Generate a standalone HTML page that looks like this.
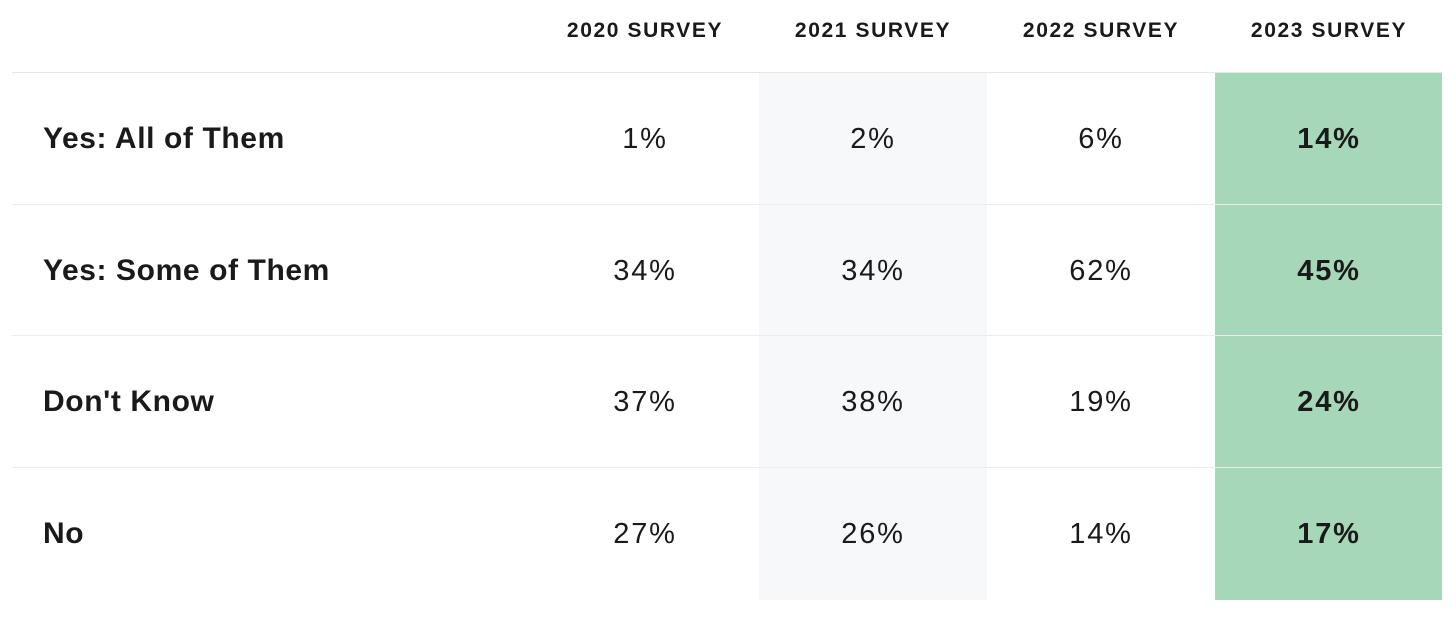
<!DOCTYPE html>
<html><head><meta charset="utf-8"><style>
body{margin:0;width:1456px;height:618px;background:#fff;font-family:"Liberation Sans",sans-serif;color:#1a1a1a;position:relative;overflow:hidden}
.abs{position:absolute}
.hdr{top:18px;width:228px;text-align:center;font-weight:bold;font-size:21px;letter-spacing:1.6px;line-height:26px}
.line{left:12px;width:1430px;height:1px;background:#e6e6e6}
.lab{left:43px;font-weight:bold;font-size:30px;letter-spacing:0.6px;line-height:34px}
.val{width:228px;text-align:center;font-size:29px;letter-spacing:1.8px;line-height:34px}
</style></head><body>
<div class="abs" style="left:759px;top:73px;width:228px;height:527px;background:#f7f8fa"></div>
<div class="abs" style="left:1215px;top:73px;width:227px;height:527px;background:#a6d7b8"></div>
<div id="t"></div>
<script>
const surveys=["2020 SURVEY","2021 SURVEY","2022 SURVEY","2023 SURVEY"];
const answers=["Yes: All of Them","Yes: Some of Them","Don't Know","No"];
const v2020=[1,34,37,27];
const v2021=[2,34,38,26];
const v2022=[6,62,19,14];
const v2023=[14,45,24,17];
const series=[v2020,v2021,v2022,v2023];
const colX=i=>531+i*228, rowTop=r=>73+r*131.5;
const t=document.getElementById('t');
surveys.forEach((s,i)=>{const d=document.createElement('div');d.className='abs hdr';d.style.left=colX(i)+'px';d.textContent=s;


t.appendChild(d);});
for(let r=0;r<4;r++){
 const ln=document.createElement('div');ln.className='abs line';ln.style.top=(rowTop(r)-1)+'px';
 
 
 if(r>0)ln.style.background='#ececec';
 t.appendChild(ln);
 const l=document.createElement('div');l.className='abs lab';l.style.top=(rowTop(r)+49)+'px';l.textContent=answers[r];
 
 
 t.appendChild(l);
 series.forEach((arr,i)=>{const c=document.createElement('div');c.className='abs val';c.style.left=colX(i)+'px';c.style.top=(rowTop(r)+49)+'px';c.textContent=arr[r]+'%';if(i==3)c.style.fontWeight='bold';
 
 
 t.appendChild(c);});
}
</script>
</body></html>
